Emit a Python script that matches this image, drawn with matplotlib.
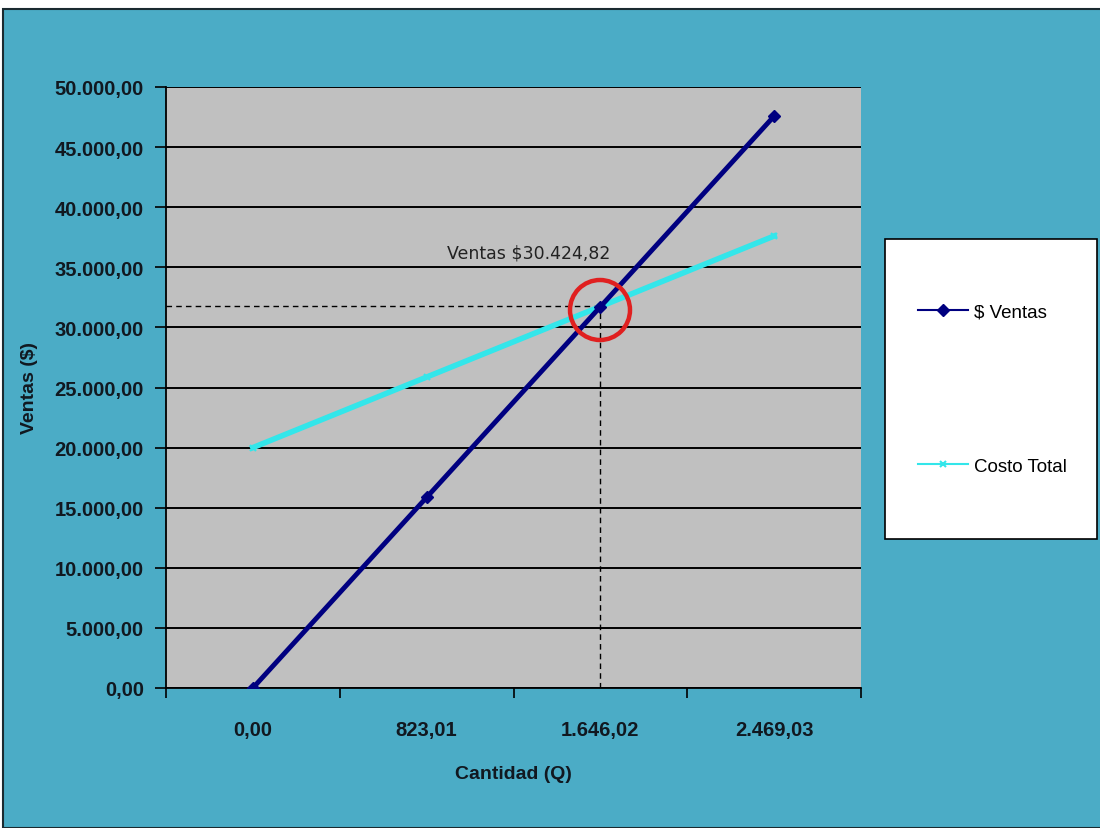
import matplotlib
matplotlib.use("Agg")
import matplotlib.pyplot as plt
from matplotlib.patches import Rectangle, Circle
from matplotlib.ticker import FuncFormatter, FixedLocator, MultipleLocator

# data
cantidad = [0.00, 823.01, 1646.02, 2469.03]
ventas = [0.0, 15859.4, 31718.8, 47578.2]
costo_total = [20000.0, 25868.0, 31736.0, 37604.0]
eq_label = "Ventas $30.424,82"
eq_y = 31780.0

BLUE_BG = "#4BACC6"
GRAY = "#C0C0C0"
BOLDFONT = ["Liberation Sans", "DejaVu Sans"]


def fmt_es(v, pos=None):
    s = "{:,.2f}".format(v)
    return s.replace(",", "X").replace(".", ",").replace("X", ".")


fig = plt.figure(figsize=(11, 8.29), dpi=100)
fig.patch.set_facecolor("white")
fig.patches.append(Rectangle((3 / 1100., 0), 1.0, (829 - 10) / 829., transform=fig.transFigure,
                             facecolor=BLUE_BG, edgecolor="#1a2a30", lw=1.5, zorder=-10))

ax = fig.add_axes([166 / 1100., 1 - 689 / 829., 695 / 1100., 601 / 829.])
ax.set_facecolor(GRAY)

xs = range(len(cantidad))
ax.plot(xs, ventas, color="#000080", lw=3.5, marker="D", ms=6, label="$ Ventas", zorder=4)
ax.plot(xs, costo_total, color="#33E6EA", lw=4, marker="x", ms=5, mew=1.5, label="Costo Total", zorder=3)

ax.set_xlim(-0.5, len(cantidad) - 0.5)
ax.set_ylim(0, 50000)
ax.yaxis.set_major_locator(MultipleLocator(5000))
ax.yaxis.set_major_formatter(FuncFormatter(fmt_es))
ax.grid(axis="y", color="black", lw=1.4)
ax.set_axisbelow(True)

ax.xaxis.set_major_locator(FixedLocator([i - 0.5 for i in range(len(cantidad) + 1)]))
ax.xaxis.set_major_formatter(FuncFormatter(lambda v, p: ""))
ax.xaxis.set_minor_locator(FixedLocator(list(xs)))
ax.set_xticklabels([fmt_es(c) for c in cantidad], minor=True)
ax.tick_params(axis="x", which="minor", length=0, pad=23)
ax.tick_params(axis="x", which="major", length=7, width=1.2, direction="out")
ax.tick_params(axis="y", length=8, width=1.2, direction="out", pad=8)

for lab in ax.get_yticklabels() + ax.get_xticklabels(minor=True):
    lab.set_family(BOLDFONT)
    lab.set_fontweight("bold")
    lab.set_fontsize(14.5)
    lab.set_color("#111820")

for s in ["top", "right"]:
    ax.spines[s].set_visible(False)
for s in ["left", "bottom"]:
    ax.spines[s].set_linewidth(1.3)

# break-even markers
ax.plot([-0.5, 2], [eq_y, eq_y], ls="--", color="black", lw=1, dashes=(4, 3), zorder=2)
ax.plot([2, 2], [0, eq_y], ls="--", color="black", lw=1, dashes=(4, 3), zorder=2)
ax.text(1.59, 36200, eq_label, fontsize=12.5, color="#222222", ha="center", va="center")
circ = Circle((600, 829 - 311), 30, transform=None, fill=False, edgecolor="#E02020", lw=3.2, zorder=6)
ax.add_artist(circ)

ax.set_ylabel("Ventas ($)", family=BOLDFONT, fontweight="bold", fontsize=14, color="#111820", labelpad=12)
ax.set_xlabel("Cantidad (Q)", family=BOLDFONT, fontweight="bold", fontsize=14, color="#111820", labelpad=19)

# legend box
fig.patches.append(Rectangle((885 / 1100., 1 - 540 / 829.), 212 / 1100., 300 / 829., transform=fig.transFigure,
                             facecolor="white", edgecolor="black", lw=1.2, zorder=5))
leg = fig.legend(loc="center left", bbox_to_anchor=(910 / 1100., 1 - 390 / 829.),
                 frameon=False, prop={"family": BOLDFONT, "size": 13.5},
                 handlelength=2.7, labelspacing=7.3, handletextpad=0.3, borderaxespad=0)
leg.set_zorder(6)
for line in leg.get_lines():
    line.set_linewidth(1.5)

fig.savefig("out.png", dpi=100)
